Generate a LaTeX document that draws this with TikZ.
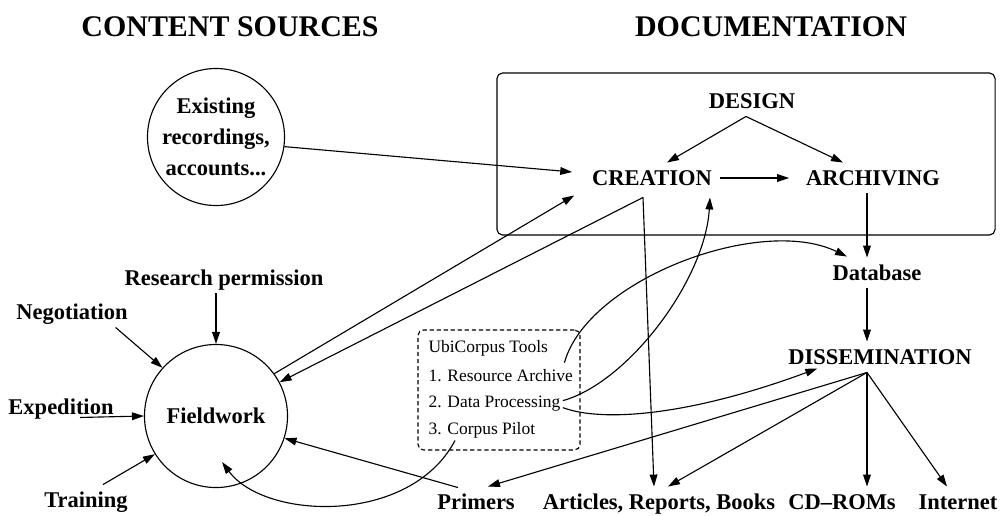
\documentclass[tikz,border=0pt]{standalone}
\usepackage{fontspec}
\setmainfont{Liberation Serif}
\usepackage{tikz}
\usetikzlibrary{arrows.meta, positioning, calc}

\begin{document}
\begin{tikzpicture}[
  x=0.025cm, y=-0.025cm,
  line width=0.8pt,
  title/.style   ={font=\fontsize{21.3}{25}\selectfont\bfseries, inner sep=0pt},
  phase/.style   ={font=\fontsize{16}{19}\selectfont\bfseries, inner sep=5.3pt,
                   text height=10.6pt, text depth=0pt},
  srcircle/.style={draw, circle, inner sep=0pt, align=center,
                   font=\fontsize{16}{22}\selectfont\bfseries},
  docframe/.style={draw, rounded corners=4pt, inner sep=0pt},
  toolbox/.style ={draw, dash pattern=on 3pt off 2pt, rounded corners=4pt, inner sep=0pt},
  toolitem/.style={font=\fontsize{12.4}{15}\selectfont, inner sep=0pt,
                   text height=8.7pt, text depth=2.6pt, anchor=west},
  arr/.style={-{Triangle[length=8.5pt, width=5.5pt]}},
]
\useasboundingbox (0,0) rectangle (1003,515);

\node[title] (srctitle) at (230,27) {CONTENT SOURCES};
\node[title] (doctitle) at (771,27) {DOCUMENTATION};

\node[docframe, minimum width=12.45cm, minimum height=4.05cm] (docbox) at (746,154) {};
\node[toolbox,  minimum width=4.05cm,  minimum height=3cm]    (tbox)   at (499,390) {};

\node[srcircle, minimum size=3.425cm] (existing) at (216,137) {Existing\\recordings,\\accounts...};
\node[srcircle, minimum size=3.575cm] (field)    at (216,416) {Fieldwork};

\node[phase] (design)    at (752,101) {DESIGN};
\node[phase] (creation)  at (652,178) {CREATION};
\node[phase] (archiving) at (873,178) {ARCHIVING};
\node[phase] (database)  at (877,273) {Database};
\node[phase] (dissem)    at (880,357) {DISSEMINATION};

\node[phase] (research) at (224,278) {Research permission};
\node[phase] (nego)     at (72,312)  {Negotiation};
\node[phase] (exped)    at (61,407)  {Expedition};
\node[phase] (training) at (86,500)  {Training};

\node[phase] (primers)  at (476,502) {Primers};
\node[phase] (articles) at (659,502) {Articles, Reports, Books};
\node[phase] (cdroms)   at (842,502) {CD--ROMs};
\node[phase] (internet) at (958,502) {Internet};

\node[toolitem] (tools) at (428,348) {UbiCorpus Tools};
\node[toolitem, below=0.73cm of tools.west, anchor=west] (res)   {1. Resource Archive};
\node[toolitem, below=0.66cm of res.west,   anchor=west] (proc)  {2. Data Processing};
\node[toolitem, below=0.66cm of proc.west,  anchor=west] (pilot) {3. Corpus Pilot};

\coordinate (cfork) at ($(creation.south)+(-9,4)$);
\coordinate (dfork) at ($(dissem.south)+(-13,0)$);

\draw[arr] ($(design.south)+(-6,0)$) -- ($(creation.north)+(15,0)$);
\draw[arr] ($(design.south)+(-6,0)$) -- ($(archiving.north)+(-30,0)$);
\draw[arr] (creation.east) -- ($(archiving.west)+(-9,0)$);
\draw[arr] (existing.-8) -- ($(creation.west)+(-12,-6)$);
\draw[arr] (field.36) -- ($(creation.south west)+(-10,2)$);
\draw[arr] (cfork) -- (field.28);
\draw[arr] (cfork) -- ($(articles.north)+(-5,0)$);
\draw[arr] (archiving.south -| dfork) -- (database.north -| dfork);
\draw[arr] (database.south -| dfork) -- (dissem.north -| dfork);
\draw[arr] (dfork) -- ($(primers.north)+(12,0)$);
\draw[arr] (dfork) -- ($(articles.north)+(9,0)$);
\draw[arr] (dfork) -- (dfork |- cdroms.north);
\draw[arr] (dfork) -- ($(internet.north)+(-11,0)$);

\draw[arr] (research.south -| field.north) -- (field.north);
\draw[arr] ($(nego.south east)+(-20,0)$) -- (field.138);
\draw[arr] ($(exped.south)+(19,-5)$) -- (field.west);
\draw[arr] ($(training.north)+(17,0)$) -- (field.212);
\draw[arr] ($(primers.north)+(-18,1)$) -- (field.-18);

\draw[arr] ($(res.north east)+(-9,-6)$) .. controls +(23,-83) and +(-87,-42) .. ($(database.north)+(-30,-1)$);
\draw[arr] ($(proc.east)+(2,-3)$) .. controls +(65,-18) and +(-5,83) .. ($(creation.south)+(58,4)$);
\draw[arr] ($(proc.east)+(2,4)$) .. controls +(40,15) and +(-127,47) .. ($(dissem.south west)+(37,-4)$);
\draw[arr] ($(pilot.south west)+(27,2)$) .. controls +(-45,85) and +(43,58) .. ($(field.center)+(6,46)$);

\end{tikzpicture}
\end{document}
